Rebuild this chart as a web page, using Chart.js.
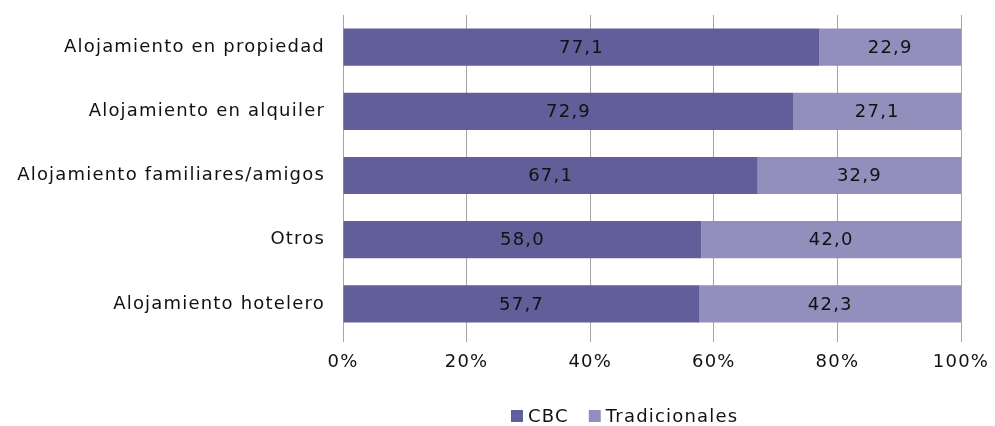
<!DOCTYPE html>
<html><head><meta charset="utf-8">
<script src="https://cdn.jsdelivr.net/npm/chart.js@4/dist/chart.umd.min.js"></script>
<style>html,body{margin:0;padding:0;background:#fff}#wrap{width:995px;height:426px;position:relative}</style>
</head><body><div id="wrap"><canvas id="c" width="995" height="426"></canvas></div>
<script>
const categories = ["Alojamiento en propiedad","Alojamiento en alquiler","Alojamiento familiares/amigos","Otros","Alojamiento hotelero"];
const cbc = [77.1, 72.9, 67.1, 58.0, 57.7];
const tradicionales = [22.9, 27.1, 32.9, 42.0, 42.3];
const seriesNames = ["CBC","Tradicionales"];
const colors = ["#605f9a","#928fbd"];
const FONT = "'DejaVu Sans', Verdana, sans-serif";
const FS = 18;
const LS = "1.2px";

const spacingPlugin = {
  id:'spacing',
  beforeInit(chart){ chart.ctx.letterSpacing = LS; },
  beforeDraw(chart){ chart.ctx.letterSpacing = LS; }
};
const labelPlugin = {
  id:'labels',
  afterDatasetsDraw(chart){
    const ctx = chart.ctx;
    ctx.save();
    ctx.letterSpacing = LS;
    ctx.font = FS + "px " + FONT;
    ctx.fillStyle = "#111";
    ctx.textAlign = "center";
    ctx.textBaseline = "middle";
    chart.data.datasets.forEach((ds,i)=>{
      chart.getDatasetMeta(i).data.forEach((bar,j)=>{
        const x = (bar.x + bar.base)/2;
        ctx.fillText(ds.data[j].toFixed(1).replace('.',','), x, bar.y+1);
      });
    });
    ctx.restore();
  }
};
const legendPlugin = {
  id:'customLegend',
  afterDraw(chart){
    const ctx = chart.ctx;
    ctx.save();
    ctx.letterSpacing = LS;
    ctx.font = FS + "px " + FONT;
    ctx.textBaseline = "middle";
    let x = 511; const y = 416;
    seriesNames.forEach((n,i)=>{
      ctx.fillStyle = colors[i];
      ctx.fillRect(x, y-6, 12, 12);
      ctx.fillStyle = "#111";
      ctx.textAlign = "left";
      ctx.fillText(n, x+17, y+1);
      x += 17 + ctx.measureText(n).width + 20;
    });
    ctx.restore();
  }
};

new Chart(document.getElementById('c'), {
  type:'bar',
  data:{
    labels: categories,
    datasets:[
      {label:seriesNames[0], data:cbc, backgroundColor:colors[0], barPercentage:0.58, categoryPercentage:1},
      {label:seriesNames[1], data:tradicionales, backgroundColor:colors[1], barPercentage:0.58, categoryPercentage:1}
    ]
  },
  options:{
    indexAxis:'y',
    responsive:false,
    animation:false,
    layout:{padding:{left:0,right:34,top:15,bottom:0}},
    plugins:{legend:{display:false}, tooltip:{enabled:false}},
    scales:{
      x:{
        stacked:true, min:0, max:100,
        ticks:{stepSize:20, callback:v=>v+'%', color:'#111', font:{family:FONT,size:FS}, padding:10, maxRotation:0},
        grid:{color:'#a6a6a6', lineWidth:1, tickLength:6, drawOnChartArea:true},
        border:{display:false},
        afterFit(s){ s.height = 90; s.paddingLeft = 0; s.paddingRight = 0; }
      },
      y:{
        stacked:true,
        ticks:{color:'#111', font:{family:FONT,size:FS}, padding:18},
        grid:{display:false, drawTicks:false},
        border:{display:true, color:'#a6a6a6'},
        afterFit(s){ s.width = 343; s.paddingTop = 0; s.paddingBottom = 0; }
      }
    }
  },
  plugins:[spacingPlugin, labelPlugin, legendPlugin]
});
</script></body></html>
